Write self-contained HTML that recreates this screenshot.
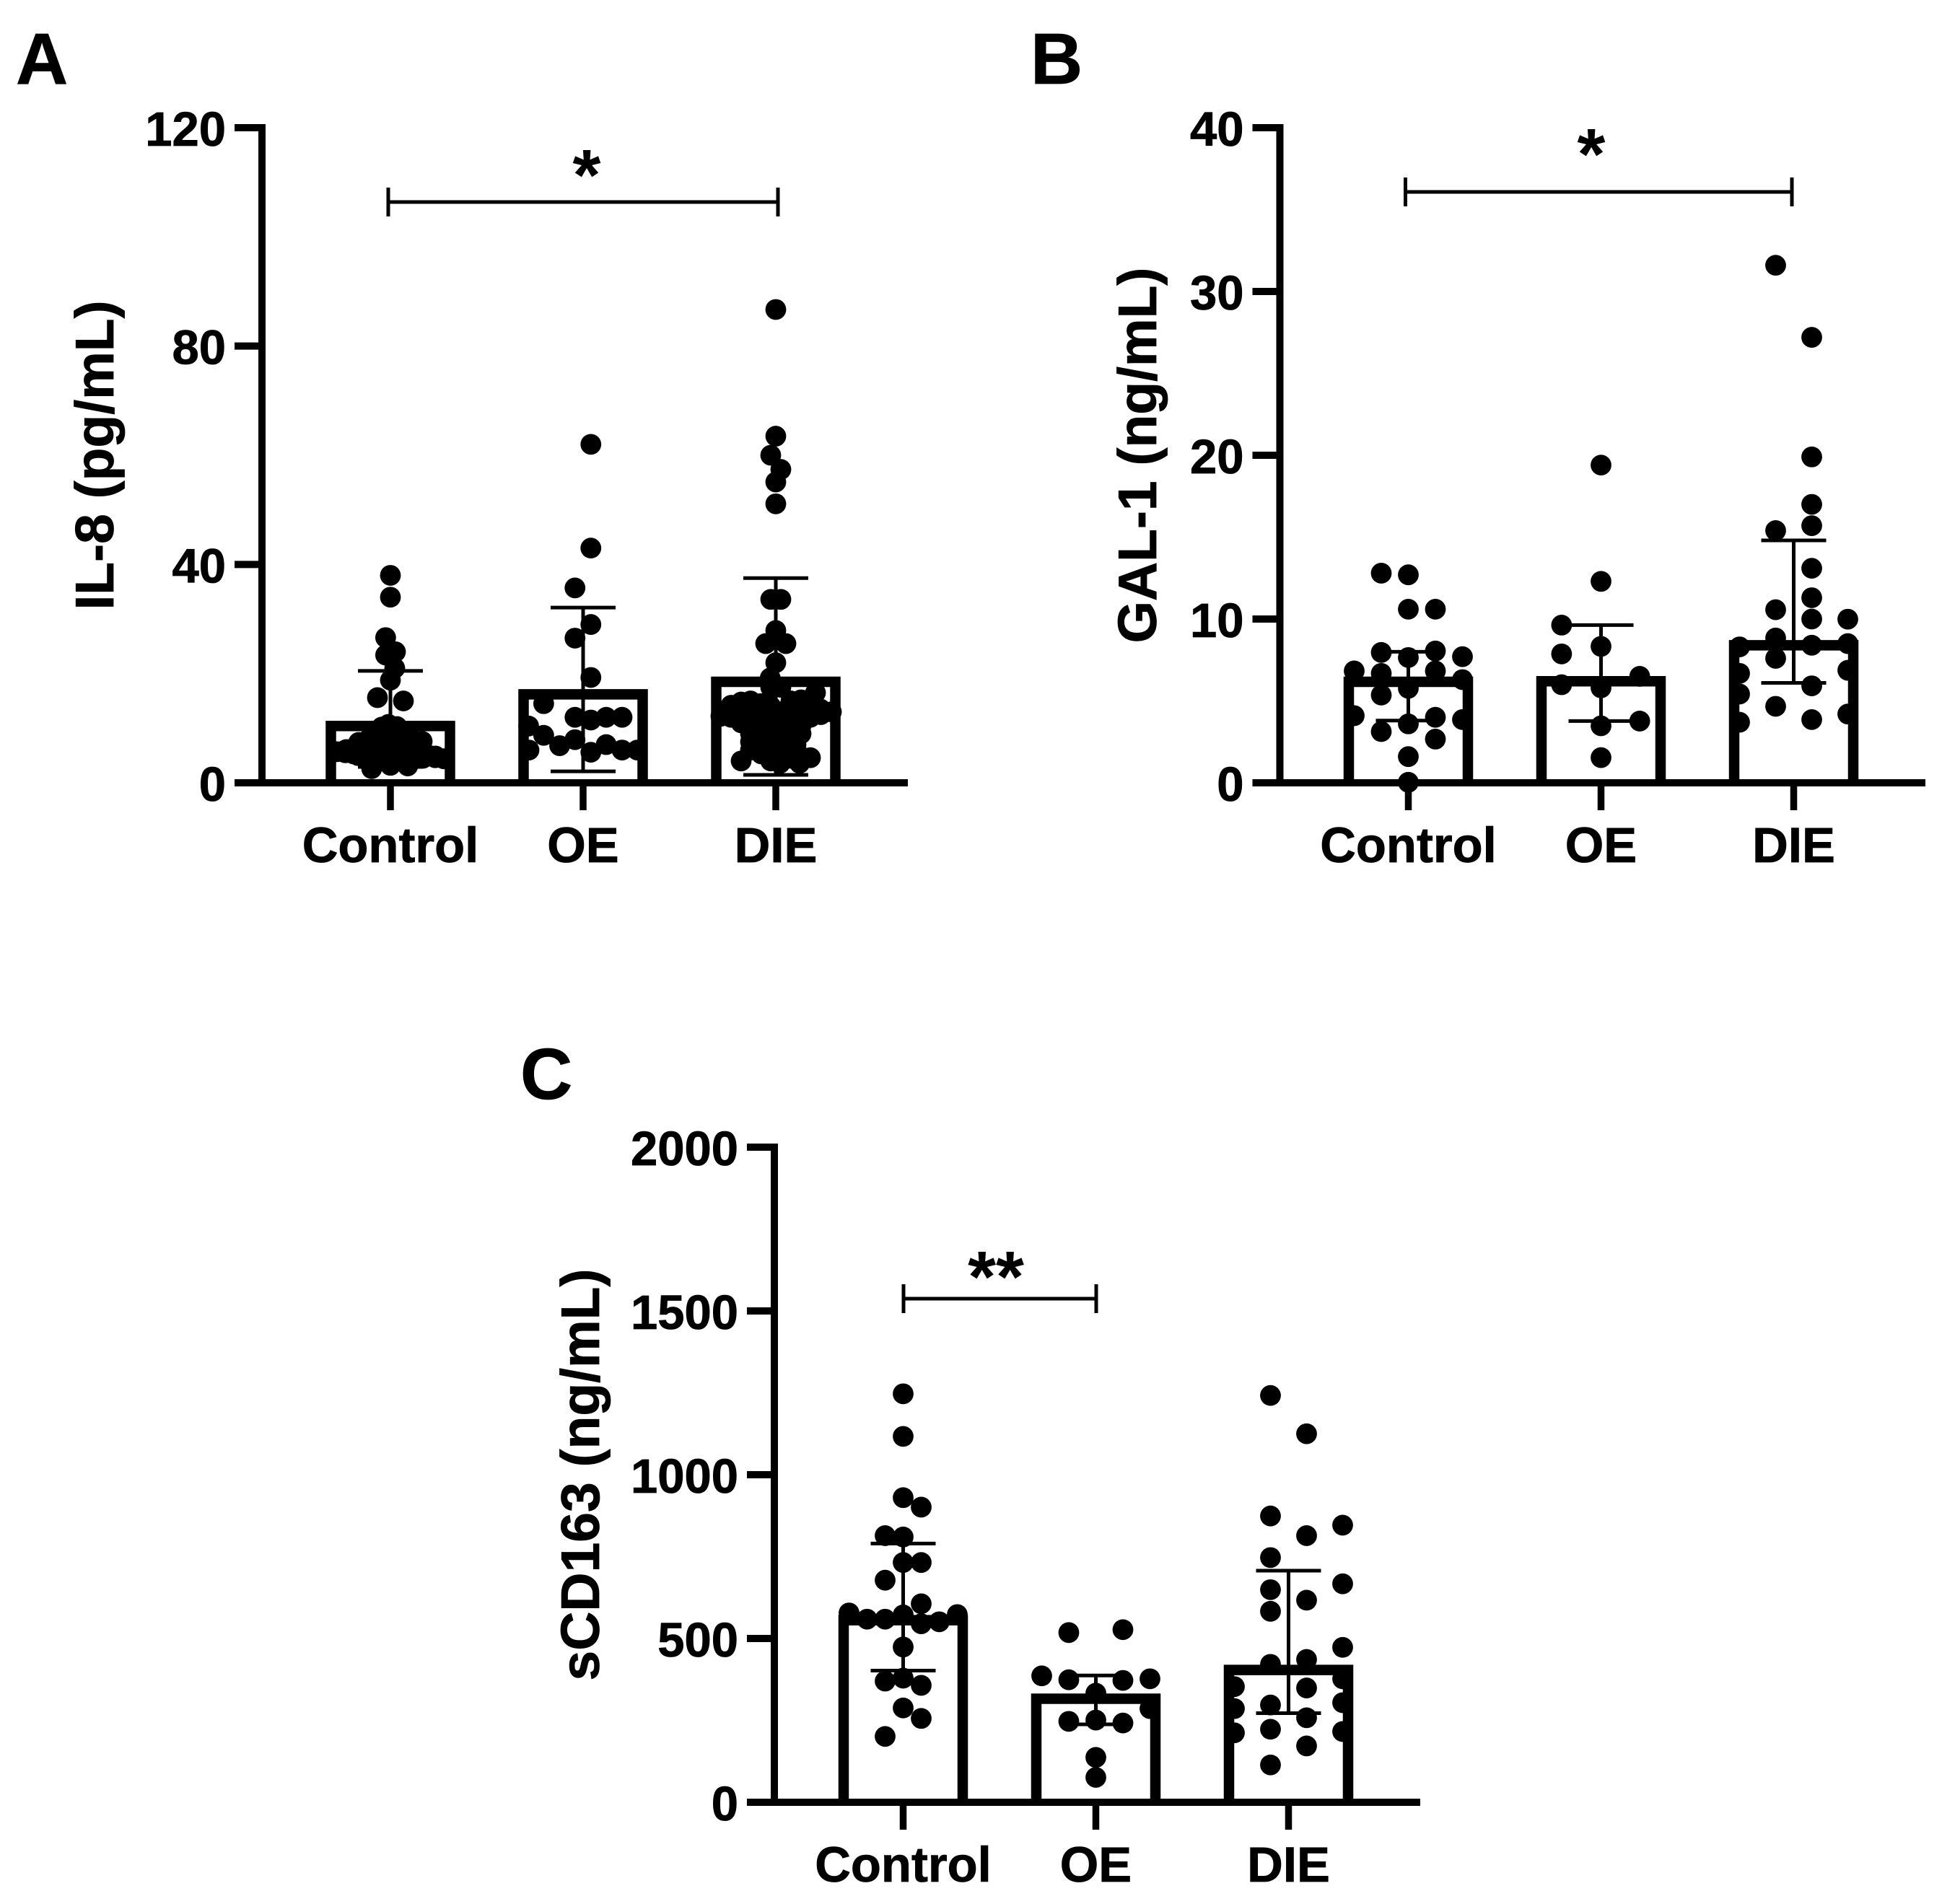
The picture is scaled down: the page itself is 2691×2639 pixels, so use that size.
<!DOCTYPE html>
<html lang="en">
<head>
<meta charset="utf-8">
<title>IL-8, GAL-1 and sCD163 by group</title>
<style>
html,body{margin:0;padding:0;background:#fff;}
svg{display:block;}
text{font-family:"Liberation Sans",Arial,sans-serif;font-weight:bold;fill:#000;stroke:#000;stroke-width:0.8;}
</style>
</head>
<body>
<svg id="figure" xmlns="http://www.w3.org/2000/svg" width="2691" height="2639" viewBox="0 0 2691 2639"></svg>
<script>
const categories = ['Control', 'OE', 'DIE'];

const ilTicks = [0, 40, 80, 120];
const ilMeans = [10.4, 16.2, 18.5];
const ilErrorHigh = [20.5, 32.1, 37.5];
const ilErrorLow = [2.9, 2.1, 1.45];
const ilControlValues = [38,34,26.6,24,23.4,21,18.8,15.6,15,10.7,10.3,10.2,7.6,7.4,6.1,4.6,4.4,5.7,2.6,3.2,3.1,5.3,5.5,8,9,9,9,8,6,7,7,6,5,5,5,5,5,4,4,7,6,8,7,5.5,6.5,5,6.5,6.5,7.5,7.5,6.5,5,4.5,4.9,5.5,9.5,9.5];
const ilControlLanes = [0,0,-.53,.56,-.53,.48,0,-1.44,1.44,-.22,.72,-.96,3.52,-3.52,-4.88,4.96,5.92,-5.92,-2.08,0,1.92,-4.08,3.6,-2.4,-1.2,0,1.2,2.4,-1.76,-.56,.56,1.76,-2.4,-1.2,0,1.2,2.4,-1.2,1.2,3.04,-3.04,2,-3.2,-4.3,3.2,4.3,-2.4,2.4,-1.2,1.2,0,-3.6,3.6,5,-5,1.2,-1.2];
const ilOeValues = [62,43,35.7,29,26.5,19.3,14.5,12,11.5,12,12,10.4,8.7,6.8,7.9,5.6,7,6,6,6];
const ilOeLanes = [.86,.86,-.9,.86,-.9,.86,-4.37,-.9,.86,2.56,4.32,-6.04,-4.37,-2.6,-.9,.86,2.56,4.32,6,-6];
const ilDieValues = [86.7,63.5,60,57.4,55.1,51.1,33.6,33.6,27.9,25.5,25.5,22,19.2,16.5,14.8,14.2,12.2,13,11,7.5,4,5.3,3.6,3.6,4.6,17.5,17.5,14,15.2,15,13.5,13,13,13,12,12,12,11,11,11,10.5,9.5,9.5,9,9,9,7.5,7,7,7,5,5,5.5,7,12.5,13,14.5,11,8,6,12,10,10.5,12,15,13.5,13.5,12.5,12,6,6,4.5,4,4.5,5,9];
const ilDieLanes = [0,0,-.56,.56,0,0,-.56,.56,0,-1.12,1.12,0,-.62,4.4,-3.84,-4.96,-6.08,6.16,-3.84,-2.8,-3.84,-1.6,.48,2.64,3.84,-.56,.56,-.56,2.8,-2.8,1.68,-.56,.56,-2.8,3.84,-1.68,1.68,-.56,.56,-2.8,2.8,-1.68,1.68,-.56,.56,2.8,1.68,-.56,.56,-1.68,.56,-.56,1.68,2.24,-3.84,-2.8,-1.68,-1.68,-1.68,-2.8,-.56,-.56,1.68,2.8,1.68,3.84,4.96,5,-4.96,-1.68,1.68,.56,-.56,1.68,2.64,-2.8];

const galTicks = [0, 10, 20, 30, 40];
const galMeans = [6.17, 6.2, 8.4];
const galErrorHigh = [8, 9.63, 14.8];
const galErrorLow = [3.8, 3.77, 6.1];
const galControlValues = [12.8,12.7,10.6,10.6,7.96,8.05,7.65,7.7,6.83,6.68,6.83,6.3,5.77,5.36,4.1,4,3.86,3.6,3.13,2.67,1.6,.03];
const galControlLanes = [-3,0,0,3,-3,3,0,6,-6,-3,3,6,0,-3,-6,3,6,0,-3,3,0,0];
const galOeValues = [19.4,12.3,9.63,8.33,7.87,6.5,5.99,5.8,3.77,3.48,1.54];
const galOeLanes = [0,0,-4.37,0,-4.37,4.29,-4.37,0,4.29,0,0];
const galDieValues = [31.6,27.2,19.9,17,15.4,15.7,13.1,11.3,10,10.57,9.99,8.84,8.3,8.4,8.5,7.6,6.68,6.87,5.42,5.92,4.67,3.7,4.2,3.86];
const galDieLanes = [-2,2,2,2,-2,2,2,2,2,-2,6,-2,-6,2,6,-2,-6,6,-6,2,-2,-6,6,2];

const cdTicks = [0, 500, 1000, 1500, 2000];
const cdMeans = [556, 316, 404];
const cdErrorHigh = [790, 387, 707];
const cdErrorLow = [402, 238, 272];
const cdControlValues = [1247,1117,930,901,814,810,732,732,678,606,578,573,559,559,572,545,551,474,370,379,357,288,256,201];
const cdControlLanes = [0,0,0,2,-2,0,0,2,-2,2,-6,6,-4,-2,0,2,4,0,-2,0,2,0,2,-2];
const cdOeValues = [518,527,386,374,372,377,333,286,247,251,242,137,76];
const cdOeLanes = [-3,3,-6,-3,3,6,0,6,-3,0,3,0,0];
const cdDieValues = [1242,1125,874,846,814,747,667,649,617,583,473,436,421,353,349,377,297,304,286,258,223,212,216,172,114];
const cdDieLanes = [-2,2,-2,6,2,-2,6,-2,2,-2,6,2,-2,-6,2,6,-2,6,-6,2,-2,-6,6,2,-2];

const SVGNS = 'http://www.w3.org/2000/svg';
const figure = document.getElementById('figure');
const LANE = 12.5, DOT_R = 14.4, PLOT_H = 908, X_STEP = 267;

function node(parent, tag, attrs) {
  const el = document.createElementNS(SVGNS, tag);
  for (const k in attrs) el.setAttribute(k, attrs[k]);
  parent.appendChild(el);
  return el;
}

function line(parent, x1, y1, x2, y2, w) {
  return node(parent, 'line', {x1: x1, y1: y1, x2: x2, y2: y2, stroke: '#000', 'stroke-width': w});
}

function drawPanel(cfg) {
  const g = node(figure, 'g', {});
  
  
  const yMax = cfg.ticks[cfg.ticks.length - 1];
  const y = v => cfg.base - v / yMax * PLOT_H;
  const x = i => cfg.firstX + i * X_STEP;

  const letter = node(g, 'text', {x: cfg.letterX, y: cfg.letterY, 'font-size': 100});
  letter.textContent = cfg.letter;
  
  

  const title = node(g, 'text', {transform: 'translate(' + cfg.titleX + ',' + y(yMax / 2) + ') rotate(-90)', 'text-anchor': 'middle', 'font-size': cfg.titleSize});
  title.textContent = cfg.title;
  
  

  cfg.series.forEach((s, i) => {
    const top = y(cfg.means[i]);
    const left = x(i) - 82.5;
    const right = x(i) + 82.5;
    const bar = node(g, 'path', {d: 'M' + left + ' ' + cfg.base + 'L' + left + ' ' + top + 'L' + right + ' ' + top + 'L' + right + ' ' + cfg.base, fill: '#fff', stroke: '#000', 'stroke-width': 14.5, 'stroke-linejoin': 'miter'});
    
    

    const err = node(g, 'g', {});
    
    
    line(err, x(i), y(cfg.errHigh[i]), x(i), y(cfg.errLow[i]), 5);
    line(err, x(i) - 45, y(cfg.errHigh[i]), x(i) + 45, y(cfg.errHigh[i]), 5);
    line(err, x(i) - 45, y(cfg.errLow[i]), x(i) + 45, y(cfg.errLow[i]), 5);

    s.values.forEach((v, j) => {
      const dot = node(g, 'circle', {cx: x(i) + s.lanes[j] * LANE, cy: y(v), r: DOT_R, fill: '#000'});
      
      
    });
  });

  const yAxis = line(g, cfg.axisX, y(yMax) - 5, cfg.axisX, cfg.base + 5, 10);
  
  
  const xAxis = line(g, cfg.axisX - 38, cfg.base, cfg.axisRight, cfg.base, 10);
  
  

  cfg.ticks.forEach(t => {
    const tk = line(g, cfg.axisX - 38, y(t), cfg.axisX, y(t), 10);
    
    
    const lb = node(g, 'text', {x: cfg.axisX - 50, y: y(t) + 25, 'text-anchor': 'end', 'font-size': 67});
    lb.textContent = t;
    
    
  });

  categories.forEach((c, i) => {
    const tk = line(g, x(i), cfg.base, x(i), cfg.base + 38, 9.5);
    
    
    const lb = node(g, 'text', {x: x(i), y: cfg.base + 110, 'text-anchor': 'middle', 'font-size': 68.8});
    lb.textContent = c;
    
    
  });

  const br = node(g, 'g', {});
  
  
  const b = cfg.bracket;
  line(br, b.x1, b.y, b.x2, b.y, 5);
  line(br, b.x1, b.y - 20, b.x1, b.y + 20, 5);
  line(br, b.x2, b.y - 20, b.x2, b.y + 20, 5);
  const star = node(g, 'text', {x: b.starX, y: b.starY, 'text-anchor': 'middle', 'font-size': 100, style: 'stroke-width:0'});
  star.textContent = b.label;
  
  
}

drawPanel({
  name: 'panel-a-il8', letter: 'A', letterX: 22, letterY: 116, title: 'IL-8 (pg/mL)', titleX: 157, titleSize: 75,
  base: 1085, axisX: 363, axisRight: 1258, firstX: 541, ticks: ilTicks,
  means: ilMeans, errHigh: ilErrorHigh, errLow: ilErrorLow,
  series: [{values: ilControlValues, lanes: ilControlLanes}, {values: ilOeValues, lanes: ilOeLanes}, {values: ilDieValues, lanes: ilDieLanes}],
  bracket: {x1: 538, x2: 1078, y: 280, label: '*', starX: 813, starY: 277}
});
drawPanel({
  name: 'panel-b-gal1', letter: 'B', letterX: 1428, letterY: 116, title: 'GAL-1 (ng/mL)', titleX: 1602, titleSize: 75,
  base: 1085, axisX: 1773.5, axisRight: 2668, firstX: 1951.5, ticks: galTicks,
  means: galMeans, errHigh: galErrorHigh, errLow: galErrorLow,
  series: [{values: galControlValues, lanes: galControlLanes}, {values: galOeValues, lanes: galOeLanes}, {values: galDieValues, lanes: galDieLanes}],
  bracket: {x1: 1947.5, x2: 2483, y: 266, label: '*', starX: 2205, starY: 248}
});
drawPanel({
  name: 'panel-c-scd163', letter: 'C', letterX: 721, letterY: 1523, title: 'sCD163 (ng/mL)', titleX: 830, titleSize: 75,
  base: 2498, axisX: 1073, axisRight: 1968, firstX: 1251.5, ticks: cdTicks,
  means: cdMeans, errHigh: cdErrorHigh, errLow: cdErrorLow,
  series: [{values: cdControlValues, lanes: cdControlLanes}, {values: cdOeValues, lanes: cdOeLanes}, {values: cdDieValues, lanes: cdDieLanes}],
  bracket: {x1: 1252, x2: 1519, y: 1800, label: '**', starX: 1380, starY: 1804}
});
</script>
</body>
</html>
